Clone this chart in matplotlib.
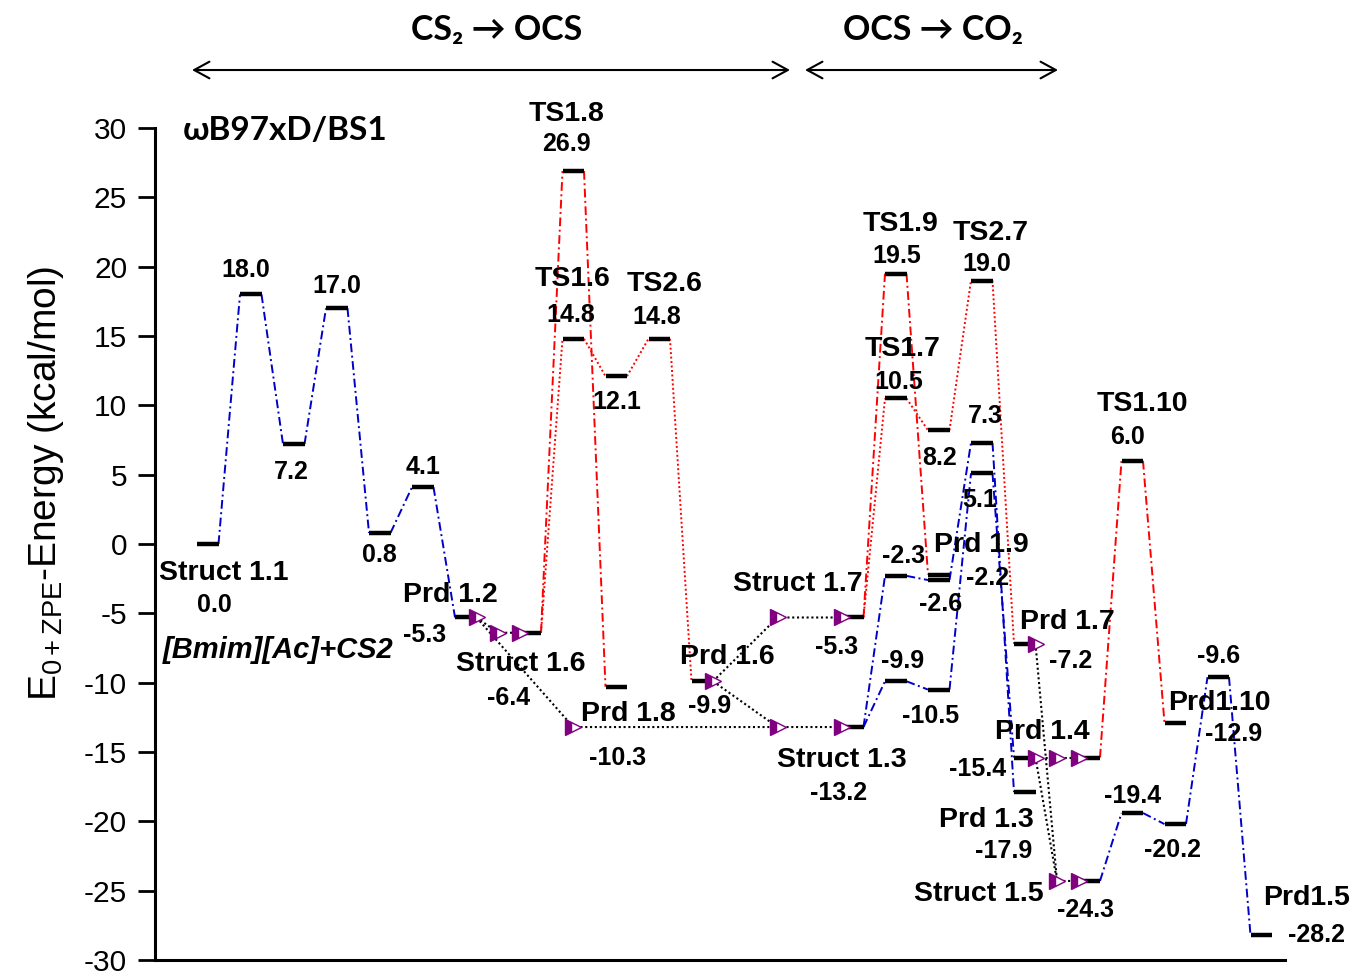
import matplotlib
matplotlib.use('Agg')
import matplotlib.pyplot as plt

plt.rcParams['font.family'] = ['Liberation Sans', 'DejaVu Sans']
plt.rcParams['mathtext.fontset'] = 'custom'
plt.rcParams['mathtext.rm'] = 'Liberation Sans'
plt.rcParams['mathtext.it'] = 'Liberation Sans:italic'
plt.rcParams['mathtext.bf'] = 'Liberation Sans:bold'
plt.rcParams['axes.unicode_minus'] = False

# ---------------- data ----------------
level_ids = ['S11', 'Ta', 'Ia', 'Tb', 'Ib', 'Tc', 'P12',
             'S16', 'TS18', 'TS16', 'I16', 'P18', 'TS26', 'P16',
             'S17', 'S13', 'TS19', 'TS17', 'Ja', 'Jb', 'I82', 'P19', 'Jc', 'Jd',
             'TS27', 'Je', 'Jf', 'P17', 'P14', 'P13', 'P14b', 'S15',
             'TS110', 'Jg', 'P110', 'Jh', 'Ji', 'P15']
level_E = [0.0, 18.0, 7.2, 17.0, 0.8, 4.1, -5.3,
           -6.4, 26.9, 14.8, 12.1, -10.3, 14.8, -9.9,
           -5.3, -13.2, 19.5, 10.5, -2.3, -9.9, 8.2, -2.2, -2.6, -10.5,
           19.0, 7.3, 5.1, -7.2, -15.4, -17.9, -15.4, -24.3,
           6.0, -19.4, -12.9, -20.2, -9.6, -28.2]
level_name = ['Struct 1.1', '', '', '', '', '', 'Prd 1.2',
              'Struct 1.6', 'TS1.8', 'TS1.6', '', 'Prd 1.8', 'TS2.6', 'Prd 1.6',
              'Struct 1.7', 'Struct 1.3', 'TS1.9', 'TS1.7', '', '', '', 'Prd 1.9', '', '',
              'TS2.7', '', '', 'Prd 1.7', 'Prd 1.4', 'Prd 1.3', '', 'Struct 1.5',
              'TS1.10', '', 'Prd1.10', '', '', 'Prd1.5']
show_value = [True] * len(level_ids)
show_value[level_ids.index('P14b')] = False

# pathway connections
blue_links = [('S11', 'Ta'), ('Ta', 'Ia'), ('Ia', 'Tb'), ('Tb', 'Ib'), ('Ib', 'Tc'), ('Tc', 'P12'),
              ('S13', 'Ja'), ('S13', 'Jb'), ('Ja', 'Jc'), ('Jb', 'Jd'), ('Jc', 'Je'), ('Jd', 'Jf'),
              ('Je', 'P13'), ('Jf', 'P14'),
              ('S15', 'Jg'), ('Jg', 'Jh'), ('Jh', 'Ji'), ('Ji', 'P15')]
red_dashdot_links = [('S16', 'TS18'), ('TS18', 'P18'), ('S17', 'TS19'), ('TS19', 'P19'),
                     ('P14b', 'TS110'), ('TS110', 'P110')]
red_dotted_links = [('S16', 'TS16'), ('TS16', 'I16'), ('I16', 'TS26'), ('TS26', 'P16'),
                    ('S17', 'TS17'), ('TS17', 'I82'), ('I82', 'TS27'), ('TS27', 'P17')]
# black dotted transfers through triangle markers: (slot, level whose energy is used)
transfer_paths = [
    [(13, 'P12'), (14, 'S16'), (15, 'S16')],
    [(13, 'P12'), (17.5, 'S13'), (27, 'S13'), (30, 'S13')],
    [(24, 'P16'), (27, 'S17'), (30, 'S17')],
    [(24, 'P16'), (27, 'S13')],
    [(39, 'P14'), (40, 'P14'), (41, 'P14')],
    [(39, 'P17'), (40, 'S15'), (41, 'S15')],
    [(39, 'P14'), (40, 'S15')],
]
yticks = [-30, -25, -20, -15, -10, -5, 0, 5, 10, 15, 20, 25, 30]

# ---------------- layout ----------------
level_slot = [0, 2, 4, 6, 8, 10, 12,
              15, 17, 17, 19, 19, 21, 23,
              30, 30, 32, 32, 32, 32, 34, 34, 34, 34,
              36, 36, 36, 38, 38, 38, 41, 41,
              43, 43, 45, 45, 47, 49]
# label offsets from bar centre in pixels (dx right, dy down)
value_off = {'S11': (7, 61), 'Ta': (-5, -24), 'Ia': (-2, 28), 'Tb': (0, -22), 'Ib': (0, 22),
             'Tc': (0, -20), 'P12': (-41, 18), 'S16': (-22, 65), 'TS18': (-7, -27),
             'TS16': (-3, -24), 'I16': (1, 26), 'P18': (1, 71), 'TS26': (-2, -22),
             'P16': (7, 25), 'S17': (-16, 30), 'S13': (-14, 66), 'TS19': (1, -18),
             'TS17': (3, -16), 'Ja': (8, -20), 'Jb': (7, -20), 'I82': (1, 28),
             'P19': (49, 3), 'Jc': (2, 24), 'Jd': (-8, 26), 'TS27': (5, -17),
             'Je': (4, -27), 'Jf': (-2, 27), 'P17': (46, 17), 'P14': (-47, 11),
             'P13': (-21, 59), 'S15': (-4, 29), 'TS110': (-5, -24), 'Jg': (0, -17),
             'P110': (58, 11), 'Jh': (-3, 26), 'Ji': (0, -21), 'P15': (55, 0)}
name_off = {'S11': (16, 29), 'P12': (-15, -22), 'S16': (-9, 31), 'TS18': (-7, -57),
            'TS16': (-1, -60), 'P18': (12, 27), 'TS26': (5, -55), 'P16': (25, -24),
            'S17': (-55, -33), 'S13': (-11, 33), 'TS19': (5, -50), 'TS17': (7, -49),
            'P19': (43, -30), 'TS27': (9, -48), 'P17': (43, -22), 'P14': (18, -26),
            'P13': (-38, 28), 'S15': (-110, 13), 'TS110': (10, -57), 'P110': (44, -20),
            'P15': (45, -37)}

X0_PX, SLOT_PX = 197.0, 21.5
Y0_PX, UNIT_PX = 544.0, 13.867


def px_x(x):
    return (x - X0_PX) / SLOT_PX


def px_y(y):
    return (Y0_PX - y) / UNIT_PX


BLUE = '#0000C8'
RED = '#FF0000'
PURPLE = '#800080'
DASHDOT = (0, (4.5, 1.8, 1.0, 1.8))
DOTTED = (0, (1.0, 1.3))

W, H = 1355, 973
fig = plt.figure(figsize=(W / 100, H / 100), dpi=100)
ax = fig.add_axes([155 / W, 13 / H, 1130 / W, 832 / H])
ax.set_xlim(px_x(155), px_x(1285))
ax.set_ylim(-30, 30)

idx = {k: i for i, k in enumerate(level_ids)}


def link(a, b, color, ls):
    ia, ib = idx[a], idx[b]
    ax.plot([level_slot[ia] + 1, level_slot[ib]], [level_E[ia], level_E[ib]],
            color=color, ls=ls, lw=1.4, zorder=2)


for a, b in blue_links:
    link(a, b, BLUE, DASHDOT)
for a, b in red_dashdot_links:
    link(a, b, RED, DASHDOT)
for a, b in red_dotted_links:
    link(a, b, RED, DOTTED)

tri_pts = set()
for path in transfer_paths:
    xs = [p[0] for p in path]
    ys = [level_E[idx[p[1]]] for p in path]
    ax.plot(xs, ys, color='black', ls=DOTTED, lw=1.5, zorder=3)
    for p in path:
        tri_pts.add((p[0], level_E[idx[p[1]]]))

# level bars
for i in range(len(level_ids)):
    ax.plot([level_slot[i], level_slot[i] + 1], [level_E[i], level_E[i]],
            color='black', lw=3.2, solid_capstyle='butt', zorder=4)

tri = sorted(tri_pts)
ax.plot([t[0] for t in tri], [t[1] for t in tri], ls='none', marker='>', ms=12,
        fillstyle='left', mfc=PURPLE, mfcalt='white', mec=PURPLE, mew=1.0, zorder=5)

# labels
for i, k in enumerate(level_ids):
    xc = level_slot[i] + 0.5
    if show_value[i]:
        dx, dy = value_off[k]
        ax.annotate(f'{level_E[i]:.1f}', xy=(xc, level_E[i]), xytext=(dx * 0.72, -dy * 0.72),
                    textcoords='offset points', ha='center', va='center',
                    fontsize=18, fontweight='bold', zorder=6)
    if level_name[i]:
        dx, dy = name_off[k]
        ax.annotate(level_name[i], xy=(xc, level_E[i]), xytext=(dx * 0.72, -dy * 0.72),
                    textcoords='offset points', ha='center', va='center',
                    fontsize=20.5, fontweight='bold', zorder=6)

ax.text(px_x(163), px_y(650), '[Bmim][Ac]+CS2', fontsize=21, fontweight='bold',
        fontstyle='italic', ha='left', va='center')
ax.text(px_x(183), px_y(130), 'ωB97xD/BS1', fontsize=24, fontweight='bold',
        family=['Lato', 'DejaVu Sans'], ha='left', va='center')

# region headers and arrows
hdr_fam = ['Lato', 'DejaVu Sans']
ax.text(px_x(497), px_y(30), 'CS₂ → OCS', fontsize=24.5, fontweight='bold',
        family=hdr_fam, ha='center', va='center', clip_on=False)
ax.text(px_x(933), px_y(30), 'OCS → CO₂', fontsize=24.5, fontweight='bold',
        family=hdr_fam, ha='center', va='center', clip_on=False)
for x1, x2 in [(192, 790), (805, 1058)]:
    ax.annotate('', xy=(px_x(x2), px_y(70)), xytext=(px_x(x1), px_y(70)),
                arrowprops=dict(arrowstyle='<->,head_length=0.55,head_width=0.3',
                                lw=1.5, color='black', shrinkA=0, shrinkB=0,
                                mutation_scale=20),
                annotation_clip=False)

# axes styling
for s in ['top', 'right']:
    ax.spines[s].set_visible(False)
ax.spines['left'].set_linewidth(2.2)
ax.spines['bottom'].set_linewidth(2.2)
ax.set_xticks([])
ax.set_yticks(yticks)
ax.set_yticklabels([str(t) for t in yticks])
ax.tick_params(axis='y', direction='out', length=12, width=2.0, labelsize=21.5, pad=8)
ax.set_ylabel(r'E$_\mathrm{0+ZPE}$-Energy (kcal/mol)', fontsize=28)
ax.yaxis.set_label_coords(-0.079, 0.573)

fig.savefig('out.png', dpi=100)
